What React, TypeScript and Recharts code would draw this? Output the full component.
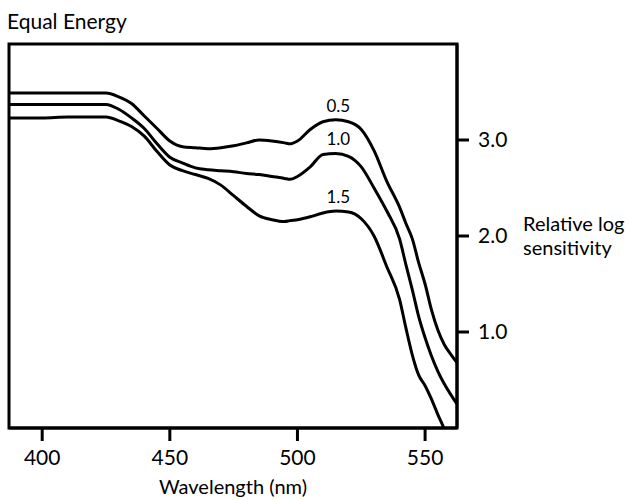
import { LineChart, Line, XAxis, YAxis, ReferenceArea, ReferenceDot } from "recharts";

// wavelength (nm) samples shared by the three curves
const wavelengths = [
  387, 400, 410, 420, 425, 430, 435, 440, 445, 450, 455, 460, 465, 470, 475, 480, 485,
  490, 495, 497, 500, 505, 510, 515, 520, 525, 530, 535, 540, 542.5, 545, 547.5, 550,
  552.5, 555, 557.5, 560, 562.5,
];

// relative log sensitivity, one array per curve
const sens05 = [
  3.49, 3.49, 3.49, 3.49, 3.49, 3.45, 3.38, 3.25, 3.12, 2.99, 2.93, 2.92, 2.91, 2.92, 2.94, 2.97, 3.0,
  2.99, 2.97, 2.96, 2.99, 3.11, 3.19, 3.21, 3.19, 3.11, 2.89, 2.57, 2.3, 2.13, 1.97, 1.72, 1.5,
  1.23, 1.02, 0.87, 0.77, 0.68,
];
const sens10 = [
  3.37, 3.37, 3.37, 3.37, 3.37, 3.32, 3.23, 3.12, 2.96, 2.82, 2.76, 2.71, 2.69, 2.68, 2.67, 2.65, 2.64,
  2.62, 2.6, 2.59, 2.62, 2.72, 2.85, 2.86, 2.83, 2.72, 2.5, 2.26, 1.97, 1.7, 1.44, 1.16, 0.94,
  0.75, 0.59, 0.46, 0.35, 0.25,
];
const sens15 = [
  3.23, 3.23, 3.24, 3.24, 3.24, 3.2, 3.14, 3.04, 2.88, 2.74, 2.68, 2.64, 2.6, 2.53, 2.42, 2.31, 2.21,
  2.17, 2.15, 2.16, 2.17, 2.2, 2.24, 2.26, 2.25, 2.18, 2.0, 1.68, 1.34, 1.04, 0.76, 0.55, 0.44,
  0.3, 0.14, -0.01, -0.18, -0.33,
];

const xTicks = [400, 450, 500, 550];
const yTicks = [1, 2, 3];
const curveLabels = ["0.5", "1.0", "1.5"];
const labelAt = 516;
const labelValues = [3.21, 2.86, 2.26];

const data = wavelengths.map((nm, i) => ({ nm, a: sens05[i], b: sens10[i], c: sens15[i] }));

const FONT = "Lato, 'DejaVu Sans', sans-serif";

export default function App() {
  return (
    <div style={{ position: "absolute", left: 0, top: 0, width: 635, height: 500, background: "#fff", fontFamily: FONT, color: "#000" }}>
      <div style={{ position: "absolute", left: 7, top: 9, fontSize: 21, lineHeight: "24px" }}>Equal Energy</div>
      <div style={{ position: "absolute", left: 523, top: 211, fontSize: 20, lineHeight: "24px" }}>
        <div>Relative log</div>
        <div>sensitivity</div>
      </div>

      <LineChart width={635} height={500} data={data} margin={{ top: 44, right: 118, bottom: 32, left: 9 }} style={{ fontFamily: FONT }}>
        <XAxis
          dataKey="nm"
          type="number"
          domain={[387, 562.5]}
          ticks={xTicks}
          allowDataOverflow
          height={40}
          tickSize={13}
          tickMargin={9}
          stroke="#000"
          axisLine={{ stroke: "#000", strokeWidth: 3 }}
          tickLine={{ stroke: "#000", strokeWidth: 3 }}
          tick={{ fill: "#000", fontSize: 21 }}
          label={{ value: "Wavelength (nm)", position: "bottom", offset: 12, fill: "#000", fontSize: 20 }}
        />
        <YAxis
          orientation="right"
          type="number"
          domain={[0, 4]}
          ticks={yTicks}
          allowDataOverflow
          width={60}
          tickSize={12}
          tickMargin={9}
          stroke="#000"
          axisLine={{ stroke: "#000", strokeWidth: 3 }}
          tickLine={{ stroke: "#000", strokeWidth: 3 }}
          tick={{ fill: "#000", fontSize: 21, textAnchor: "start" }}
          tickFormatter={(v) => v.toFixed(1)}
        />
        <ReferenceArea x1={387} x2={562.5} y1={0} y2={4} fill="none" stroke="#000" strokeWidth={3} ifOverflow="visible" />

        <Line type="monotone" dataKey="a" stroke="#000" strokeWidth={3} dot={false} isAnimationActive={false} />
        <Line type="monotone" dataKey="b" stroke="#000" strokeWidth={3} dot={false} isAnimationActive={false} />
        <Line type="monotone" dataKey="c" stroke="#000" strokeWidth={3} dot={false} isAnimationActive={false} />

        {curveLabels.map((t, i) => (
          <ReferenceDot
            key={t}
            x={labelAt}
            y={labelValues[i]}
            r={0}
            stroke="none"
            fill="none"
            label={{ value: t, position: "top", offset: 8, fill: "#000", fontSize: 17 }}
          />
        ))}
      </LineChart>
    </div>
  );
}
